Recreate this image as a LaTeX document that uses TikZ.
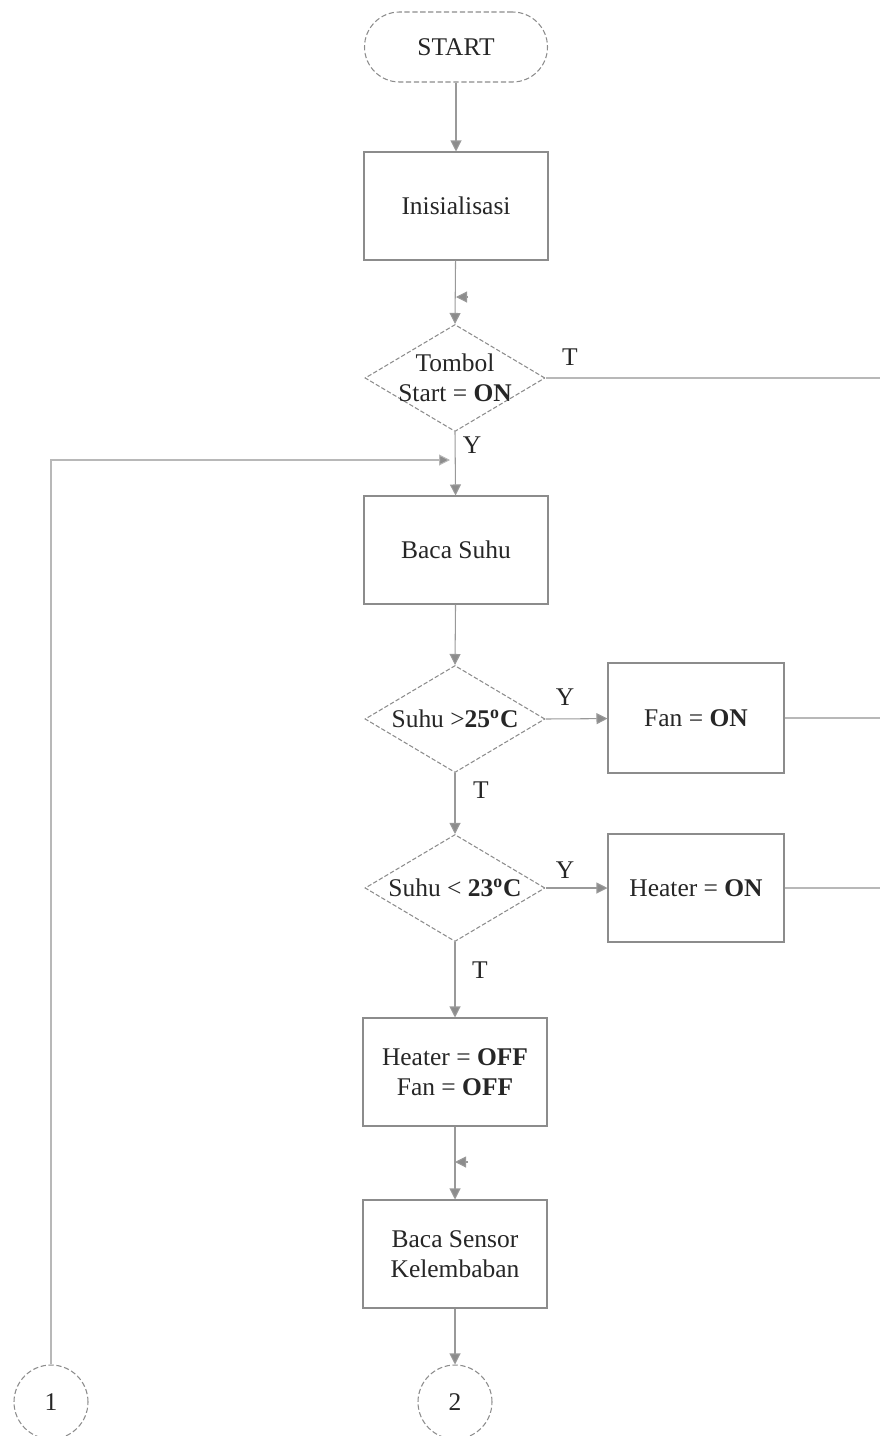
\documentclass[tikz,border=0pt]{standalone}
\usepackage{fontspec}
\setmainfont{Liberation Serif}
\usetikzlibrary{arrows.meta,shapes.geometric,positioning}

\begin{document}
\begin{tikzpicture}[
    font=\fontsize{14.5}{17}\selectfont,
    >=Latex,
    process/.style={draw=black!45, line width=0.6pt, fill=white,
                    align=center, text=black!85, inner sep=2pt,
                    minimum width=36.8mm, minimum height=21.6mm},
    terminal/.style={draw=black!45, line width=0.6pt, dash pattern=on 3pt off 1.5pt,
                     rounded corners=7mm, text=black!85,
                     minimum width=36.6mm, minimum height=14mm},
    decision/.style={diamond, draw=black!45, line width=0.6pt,
                     dash pattern=on 2.5pt off 1.2pt, inner sep=0pt,
                     minimum width=36mm, minimum height=21.4mm},
    decisiontext/.style={align=center, text=black!85},
    connector/.style={circle, draw=black!45, line width=0.6pt,
                      dash pattern=on 3pt off 1.5pt, text=black!85,
                      minimum size=14.8mm, inner sep=0pt},
    arrow/.style={-{Triangle[length=2.2mm,width=2.2mm,fill=black!45]},
                  line width=0.6pt, draw=black!40},
    line/.style={line width=0.6pt, draw=black!28},
    branch/.style={text=black!85}
]
\useasboundingbox (0,0) rectangle (17.6,-28.72);

\node[terminal] (start) at (9.12,-0.94) {START};

\node[process] (init) at (9.12,-4.12) {Inisialisasi};

\node[decision, label={[decisiontext]center:Tombol\\Start = \textbf{ON}}] (tombol) at (9.1,-7.56) {};

\node[process] (suhu) at (9.12,-11.0) {Baca Suhu};

\node[decision, label={[decisiontext]center:Suhu >\textbf{25\textsuperscript{o}C}}] (panas) at (9.1,-14.38) {};
\node[process, minimum width=35.2mm, minimum height=22mm] (fan) at (13.92,-14.36) {Fan = \textbf{ON}};

\node[decision, label={[decisiontext]center:Suhu < \textbf{23\textsuperscript{o}C}}] (dingin) at (9.1,-17.76) {};
\node[process, minimum width=35.2mm] (heater) at (13.92,-17.76) {Heater = \textbf{ON}};

\node[process] (off) at (9.1,-21.44) {Heater = \textbf{OFF}\\Fan = \textbf{OFF}};

\node[process] (sensor) at (9.1,-25.08) {Baca Sensor\\Kelembaban};

\node[connector] (conn2) at (9.1,-28.04) {2};
\node[connector] (conn1) at (1.02,-28.04) {1};

% branch labels
\node[branch] (tT) at (11.4,-7.14) {T};
\node[branch] (tY) at (9.44,-8.9) {Y};
\node[branch] (pY) at (11.3,-13.94) {Y};
\node[branch] (pT) at (9.62,-15.8) {T};
\node[branch] (dY) at (11.3,-17.4) {Y};
\node[branch] (dT) at (9.6,-19.4) {T};

% loose ends
\coordinate (tright) at (17.6,-7.56);
\coordinate (fanright) at (17.6,-14.36);
\coordinate (heatright) at (17.6,-17.76);
\coordinate (retA) at (9.36,-5.94);
\coordinate (retB) at (9.36,-23.24);
\coordinate (loopin) at (9.0,-9.2);

\draw[arrow] (start) -- (init);
\draw[arrow] (init) -- (tombol.north);
\draw[arrow] (retA) -- (retA -| init);
\draw[line] (tombol.east) -- (tright);
\draw[arrow] (tombol.south) -- (suhu);
\draw[arrow, draw=black!28] (conn1.north) |- (loopin);
\draw[arrow] (suhu) -- (panas.north);
\draw[arrow] (panas.east) -- (fan);
\draw[line] (fan) -- (fanright);
\draw[arrow] (panas.south) -- (dingin.north);
\draw[arrow] (dingin.east) -- (heater);
\draw[line] (heater) -- (heatright);
\draw[arrow] (dingin.south) -- (off);
\draw[arrow] (off) -- (sensor);
\draw[arrow] (retB) -- (retB -| off);
\draw[arrow] (sensor) -- (conn2);

\end{tikzpicture}
\end{document}
